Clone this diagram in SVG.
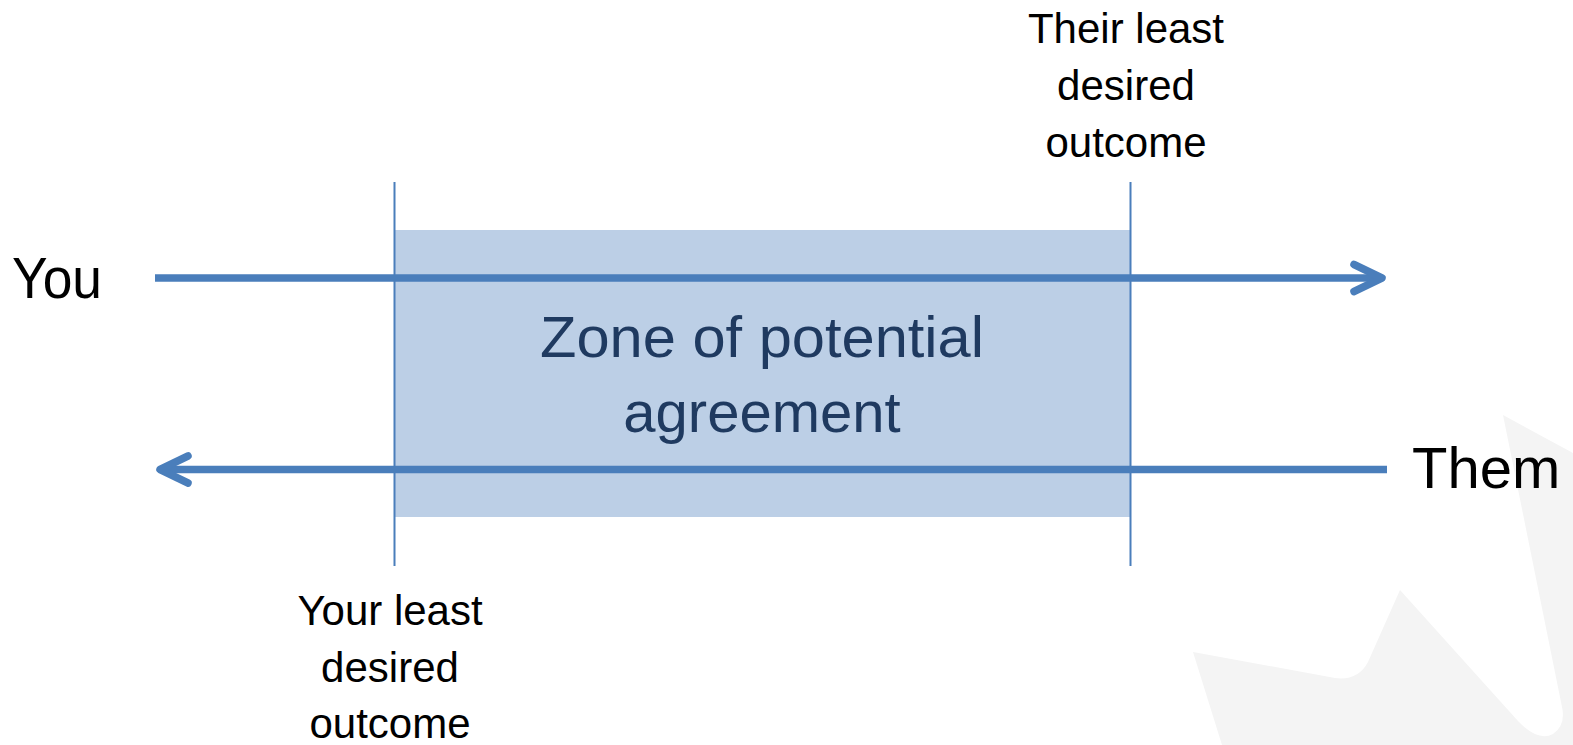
<svg xmlns="http://www.w3.org/2000/svg" width="1573" height="745" viewBox="0 0 1573 745">
<style>
.lbl{font-family:"Liberation Sans",Arial,sans-serif;fill:#000;text-anchor:middle}
.big{font-size:58px}
.small{font-size:42px}
.zone{font-family:"Liberation Sans",Arial,sans-serif;font-size:58px;fill:#1f3a60;text-anchor:middle}
.vline{stroke:#4a7ebb;stroke-width:2;fill:none}
.arrow{stroke:#4a7ebb;stroke-width:7.5;fill:none;marker-end:url(#ah)}
</style>
<defs>
<marker id="ah" markerUnits="userSpaceOnUse" viewBox="-40 -20 50 40" refX="0" refY="0" markerWidth="50" markerHeight="40" orient="auto" overflow="visible">
<path d="M-28,-13.5 L0,0 L-28,13.5" fill="none" stroke="#4a7ebb" stroke-width="7.5" stroke-linecap="round" stroke-linejoin="round"/>
</marker>
</defs>
<rect width="1573" height="745" fill="#fff"/>
<path id="bg-shape" d="M1503,415 L1573,453 L1573,745 L1222,745 L1193,652 L1335,678 Q1358,681 1368,662 L1400,590 L1518,721 Q1538,742 1553,734 Q1566,725 1562,707 Z" fill="#f4f4f4"/>
<g id="zone">
<rect x="394" y="230" width="736" height="287" fill="#bccfe6"/>
<text class="zone" x="762" y="357" textLength="444" lengthAdjust="spacingAndGlyphs">Zone of potential</text>
<text class="zone" x="762" y="432">agreement</text>
</g>
<g id="your-limit">
<line class="vline" x1="394.5" y1="182" x2="394.5" y2="566"/>
<text class="lbl small" x="390" y="625">Your least</text>
<text class="lbl small" x="390" y="682">desired</text>
<text class="lbl small" x="390" y="738">outcome</text>
</g>
<g id="their-limit">
<line class="vline" x1="1130.5" y1="182" x2="1130.5" y2="566"/>
<text class="lbl small" x="1126" y="43">Their least</text>
<text class="lbl small" x="1126" y="100">desired</text>
<text class="lbl small" x="1126" y="157">outcome</text>
</g>
<g id="you">
<text class="lbl big" x="12" y="298" style="text-anchor:start" textLength="90" lengthAdjust="spacingAndGlyphs">You</text>
</g>
<g id="them">
<text class="lbl big" x="1412" y="488" style="text-anchor:start">Them</text>
</g>
<g id="connectors">
<line class="arrow" x1="155" y1="278" x2="1382" y2="278"/>
<line class="arrow" x1="1387" y1="469.5" x2="160" y2="469.5"/>
</g>
</svg>
